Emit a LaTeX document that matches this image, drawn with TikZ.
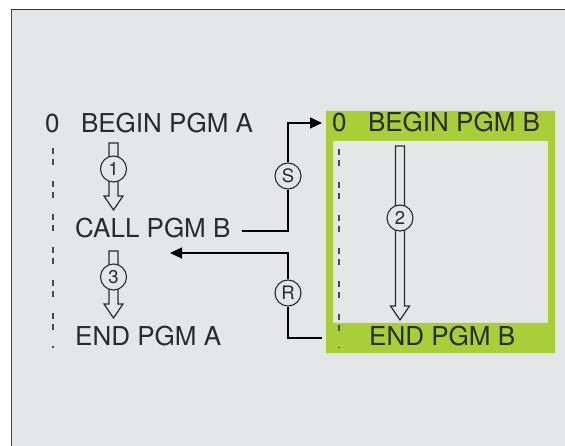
\documentclass[tikz,border=0pt]{standalone}
\usepackage{fontspec}
\setmainfont{TeX Gyre Heros}
\usepackage{xcolor}
\usetikzlibrary{arrows.meta,positioning,calc,backgrounds}

\definecolor{panel}{HTML}{E5E6E8}
\definecolor{ink}{HTML}{2B2B2B}
\definecolor{limegreen}{HTML}{A8CF38}

\pgfdeclarelayer{frame}
\pgfsetlayers{frame,background,main}

% hollow flow arrow from a top point down to its tip
\newcommand{\flowarrow}[2]{%
  \draw[flow] ($(#1)+(-4.5,0)$) -- ($(#2)+(-4.5,-14)$) -- ($(#2)+(-9.5,-14)$) -- (#2)
    -- ($(#2)+(9.5,-14)$) -- ($(#2)+(4.5,-14)$) -- ($(#1)+(4.5,0)$) -- cycle;}

\begin{document}
\begin{tikzpicture}[
  x=1pt, y=-1pt,
  stmt/.style={font=\fontsize{26}{30}\selectfont, text=ink, inner sep=0pt, anchor=base west},
  num/.style={draw=ink, circle, line width=1.1pt, fill=panel, minimum size=26pt, inner sep=0pt, font=\fontsize{18.5}{18.5}\selectfont, text=ink},
  conn/.style={draw=black, line width=1.3pt},
  flow/.style={draw=ink, line width=1.2pt, fill=panel, line join=miter},
  guide/.style={draw=ink!85, line width=1.8pt, dash pattern=on 6pt off 5pt on 6pt off 16pt},
  tip/.style={-{Triangle[length=12pt,width=11pt]}}
]
\useasboundingbox (0,0) rectangle (565,446);

\begin{pgfonlayer}{frame}
  \fill[panel] (11,9) rectangle (565,446);
  \draw[gray!55!black, line width=1.5pt] (11.5,446) -- (11.5,9);
  \draw[black!80, line width=1.5pt] (11,9.5) -- (565,9.5);
  \fill[limegreen, even odd rule] (326,111) rectangle (555,353) (333,141) rectangle (548,323);
\end{pgfonlayer}

% program A
\node[stmt] (zeroA) at (45,133) {0};
\node[stmt, base right=21pt of zeroA] (beginA) {BEGIN PGM A};
\node[stmt] (callB) at (75,238) {CALL PGM B};
\node[stmt] (endA) at (75,345) {END PGM A};

% program B
\node[stmt] (zeroB) at (332,132) {0};
\node[stmt, base right=21pt of zeroB] (beginB) {BEGIN PGM B};
\node[stmt] (endB) at (369,345) {END PGM B};

\node[num] (c1) at (113.5,169) {1};
\node[num] (c3) at (113.5,277) {3};
\node[num] (c2) at (400,218) {2};
\node[num] (cS) at (288,176) {S};
\node[num] (cR) at (288,293) {R};

\coordinate (a1top) at (113.5,143);
\coordinate (a1tip) at (113.5,210);
\coordinate (a3top) at (113.5,251);
\coordinate (a3tip) at (113.5,318);
\coordinate (a2top) at (400,146);
\coordinate (a2tip) at (400,320);
\coordinate (rtip) at (170,253);

\begin{scope}[on background layer]
  \draw[guide] (53,148) -- (53,348);
  \draw[guide] (339,149) -- (339,348);
  \flowarrow{a1top}{a1tip}
  \flowarrow{a3top}{a3tip}
  \flowarrow{a2top}{a2tip}
  \draw[conn, tip] ($(callB.base east)+(11,-7)$) -| (cS) |- ([xshift=-10pt]zeroB.west);
  \draw[conn, tip] ($(endB.base west)+(-47,-7)$) -| (cR) |- (rtip);
\end{scope}

\end{tikzpicture}
\end{document}
